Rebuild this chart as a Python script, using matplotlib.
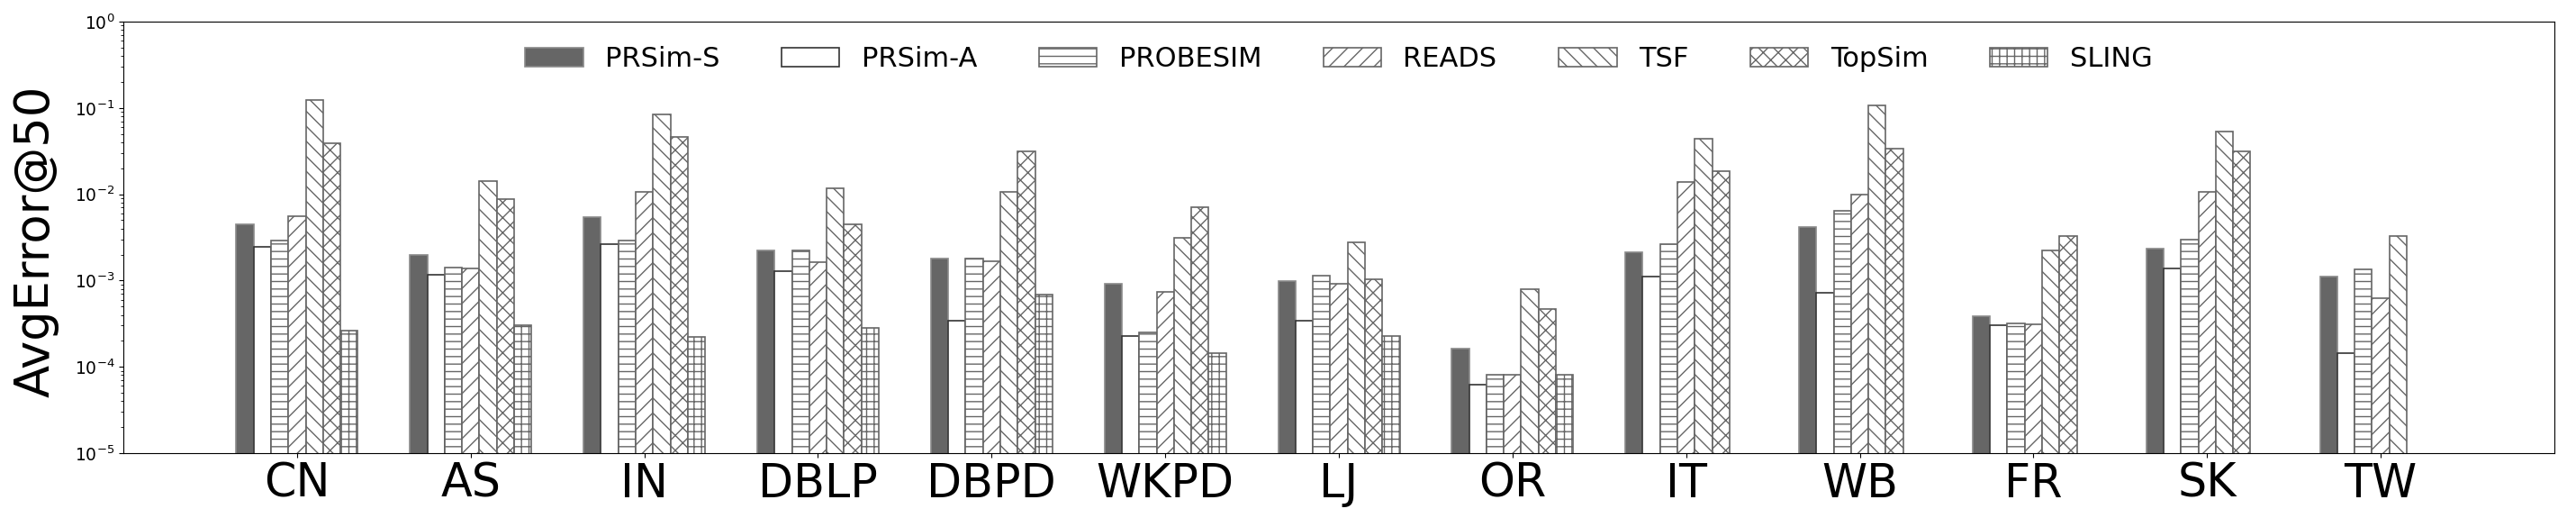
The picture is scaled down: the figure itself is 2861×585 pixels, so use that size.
import numpy as np
import matplotlib
matplotlib.use("Agg")
import matplotlib.pyplot as plt

datasets = ["CN", "AS", "IN", "DBLP", "DBPD", "WKPD", "LJ", "OR", "IT", "WB", "FR", "SK", "TW"]
nan = np.nan

prsim_s  = [4.5e-3, 1.98e-3, 5.4e-3, 2.24e-3, 1.81e-3, 9.2e-4, 9.8e-4, 1.64e-4, 2.14e-3, 4.16e-3, 3.9e-4, 2.34e-3, 1.1e-3]
prsim_a  = [2.47e-3, 1.17e-3, 2.63e-3, 1.29e-3, 3.44e-4, 2.26e-4, 3.44e-4, 6.2e-5, 1.11e-3, 7.2e-4, 3.03e-4, 1.37e-3, 1.43e-4]
probesim = [2.88e-3, 1.43e-3, 2.93e-3, 2.24e-3, 1.81e-3, 2.5e-4, 1.15e-3, 8.1e-5, 2.65e-3, 6.45e-3, 3.2e-4, 2.98e-3, 1.34e-3]
reads    = [5.5e-3, 1.38e-3, 1.055e-2, 1.65e-3, 1.68e-3, 7.4e-4, 9.1e-4, 8.1e-5, 1.38e-2, 9.9e-3, 3.09e-4, 1.07e-2, 6.3e-4]
tsf      = [0.124, 1.42e-2, 8.36e-2, 1.175e-2, 1.055e-2, 3.09e-3, 2.8e-3, 7.9e-4, 4.35e-2, 0.108, 2.24e-3, 5.3e-2, 3.3e-3]
topsim   = [3.87e-2, 8.8e-3, 4.63e-2, 4.5e-3, 3.15e-2, 7.1e-3, 1.04e-3, 4.7e-4, 1.87e-2, 3.38e-2, 3.3e-3, 3.15e-2, nan]
sling    = [2.6e-4, 3.0e-4, 2.24e-4, 2.8e-4, 6.9e-4, 1.43e-4, 2.3e-4, 8.1e-5, nan, nan, nan, nan, nan]

series = [
    ("PRSim-S", prsim_s, "#666666", "#8a8a8a", ""),
    ("PRSim-A", prsim_a, "white", "#333333", ""),
    ("PROBESIM", probesim, "white", "#666666", "--"),
    ("READS", reads, "white", "#666666", "//"),
    ("TSF", tsf, "white", "#666666", "\\\\"),
    ("TopSim", topsim, "white", "#666666", "xx"),
    ("SLING", sling, "white", "#666666", "++"),
]

plt.rcParams["hatch.linewidth"] = 1.0

fig = plt.figure(figsize=(28.61, 5.85), dpi=100)
ax = fig.add_axes([0.0479, 0.1402, 0.9437, 0.8188])

x = np.arange(len(datasets))
width = 0.1
for i, (name, vals, fc, ec, hatch) in enumerate(series):
    ax.bar(x + (i - 3) * width, vals, width, label=name, color=fc,
           edgecolor=ec, hatch=hatch, linewidth=1.2)

ax.set_yscale("log")
ax.set_ylim(1e-5, 1)
ax.set_xlim(-1, len(datasets))
ax.set_xticks(x)
ax.set_xticklabels(datasets, fontsize=36.5)
ax.tick_params(axis="y", labelsize=13.5)
ax.set_ylabel("AvgError@50", fontsize=38)
ax.yaxis.set_label_coords(-0.0263, 0.49)

ax.legend(loc="upper center", ncol=7, frameon=False, fontsize=22,
          handlelength=2.1, columnspacing=2.25)

fig.savefig("out.png", dpi=100)
